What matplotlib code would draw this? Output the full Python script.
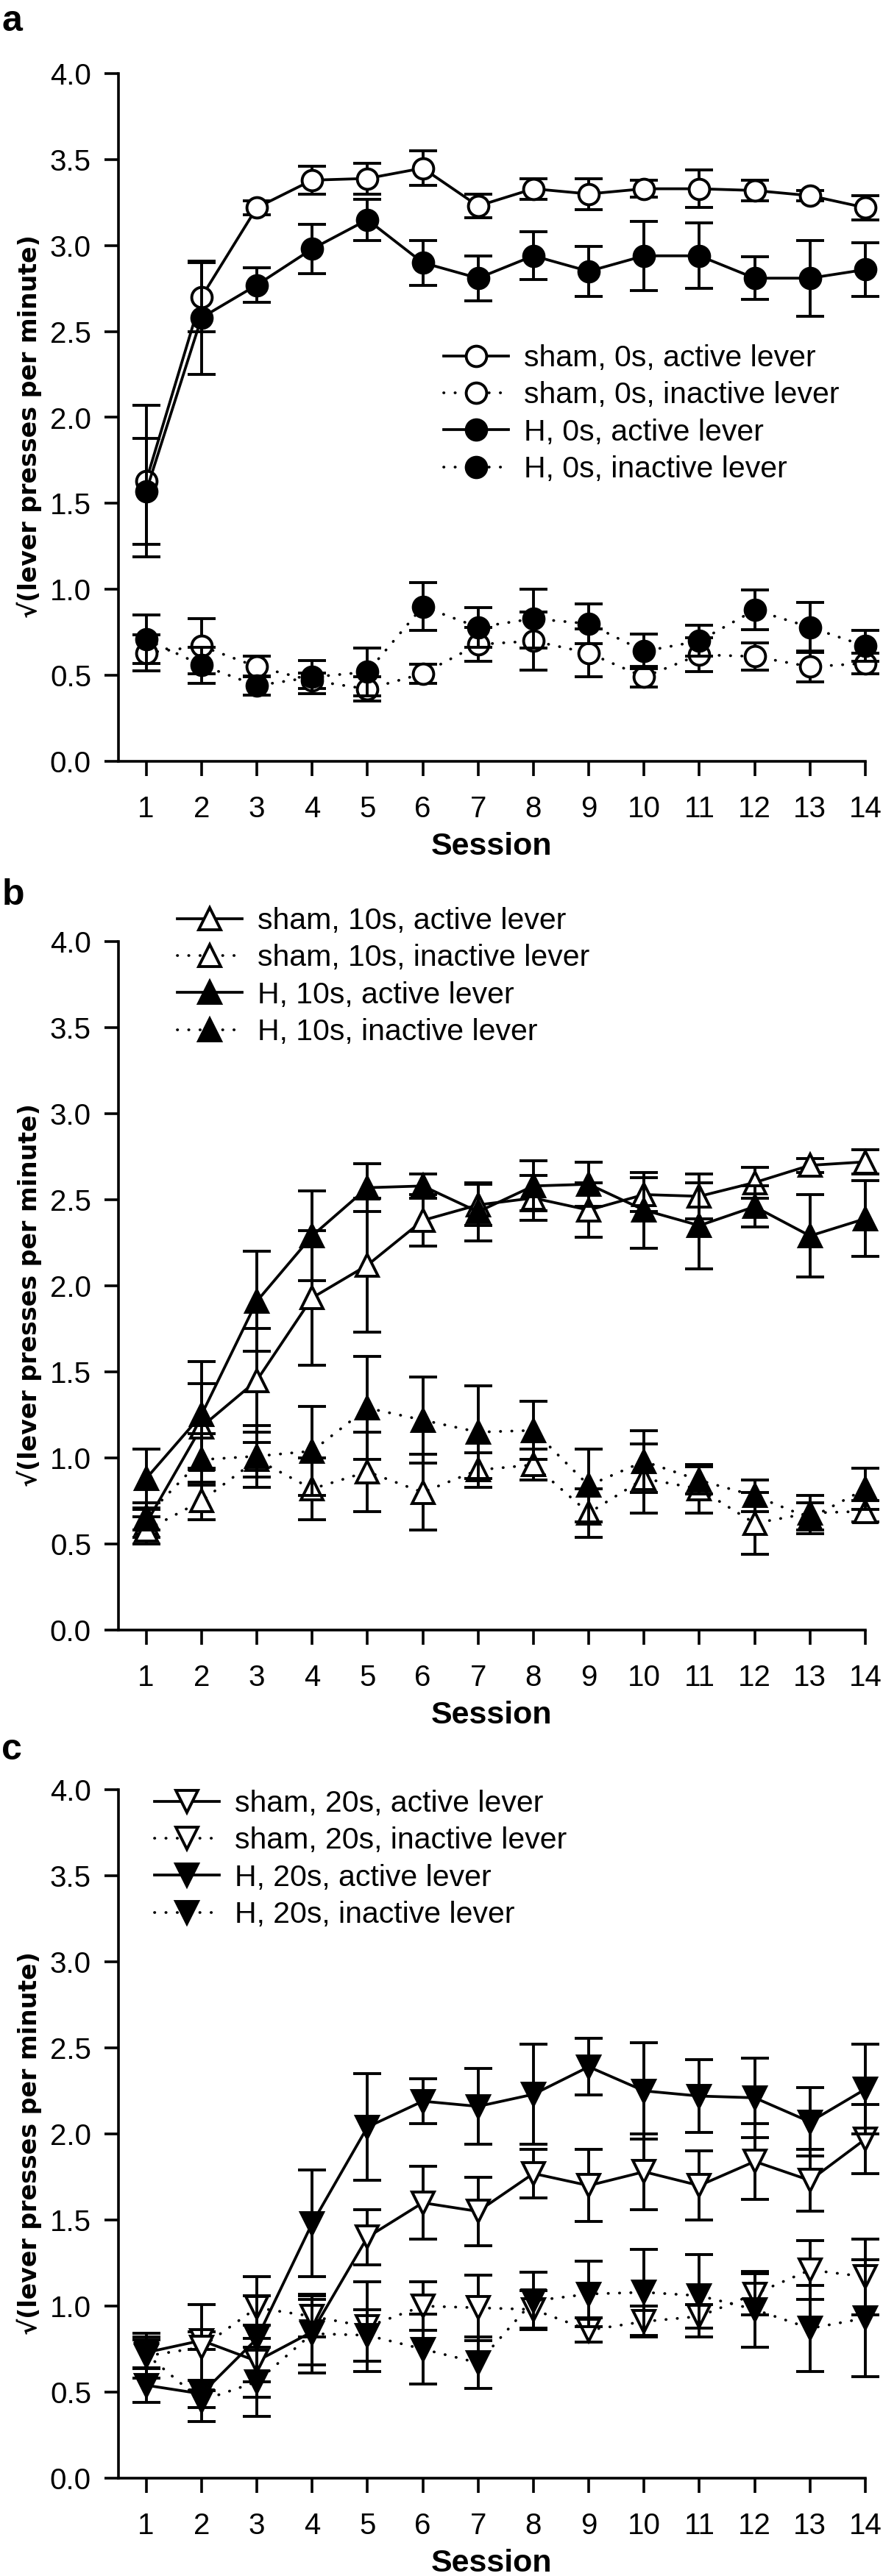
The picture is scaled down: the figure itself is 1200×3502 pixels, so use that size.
import matplotlib
matplotlib.use("Agg")
import matplotlib.pyplot as plt
import numpy as np
from matplotlib.font_manager import FontProperties

plt.rcParams['font.family'] = ['Liberation Sans', 'DejaVu Sans']

sessions = np.arange(1, 15)

# panel a, 0 s delay
a_sham_act = [1.63, 2.70, 3.22, 3.38, 3.39, 3.45, 3.23, 3.33, 3.30, 3.33, 3.33, 3.32, 3.29, 3.22]
a_sham_act_se = [0.44, 0.20, 0.04, 0.08, 0.09, 0.10, 0.07, 0.06, 0.09, 0.05, 0.11, 0.06, 0.03, 0.07]
a_sham_inact = [0.63, 0.67, 0.55, 0.47, 0.42, 0.51, 0.68, 0.70, 0.63, 0.49, 0.62, 0.61, 0.55, 0.57]
a_sham_inact_se = [0.105, 0.16, 0.06, 0.045, 0.07, 0.055, 0.10, 0.17, 0.14, 0.06, 0.10, 0.08, 0.09, 0.06]
a_h_act = [1.57, 2.58, 2.77, 2.98, 3.15, 2.90, 2.81, 2.94, 2.85, 2.94, 2.94, 2.81, 2.81, 2.86]
a_h_act_se = [0.31, 0.33, 0.10, 0.145, 0.12, 0.13, 0.13, 0.14, 0.145, 0.20, 0.19, 0.125, 0.22, 0.155]
a_h_inact = [0.71, 0.56, 0.44, 0.49, 0.52, 0.90, 0.78, 0.83, 0.80, 0.64, 0.70, 0.88, 0.78, 0.67]
a_h_inact_se = [0.14, 0.105, 0.055, 0.095, 0.14, 0.14, 0.115, 0.17, 0.115, 0.10, 0.09, 0.115, 0.145, 0.09]

# panel b, 10 s delay
b_sham_act = [0.62, 1.18, 1.45, 1.93, 2.12, 2.38, 2.47, 2.51, 2.44, 2.53, 2.52, 2.60, 2.70, 2.72]
b_sham_act_se = [0.08, 0.25, 0.30, 0.39, 0.39, 0.15, 0.12, 0.13, 0.16, 0.10, 0.13, 0.09, 0.04, 0.07]
b_sham_inact = [0.58, 0.75, 0.99, 0.82, 0.92, 0.80, 0.93, 0.96, 0.68, 0.88, 0.82, 0.62, 0.68, 0.69]
b_sham_inact_se = [0.08, 0.11, 0.10, 0.18, 0.23, 0.22, 0.10, 0.09, 0.14, 0.20, 0.14, 0.18, 0.10, 0.06]
b_h_act = [0.88, 1.25, 1.91, 2.29, 2.57, 2.58, 2.43, 2.58, 2.59, 2.44, 2.35, 2.46, 2.29, 2.39]
b_h_act_se = [0.17, 0.31, 0.29, 0.26, 0.14, 0.07, 0.17, 0.145, 0.13, 0.22, 0.25, 0.12, 0.24, 0.22]
b_h_inact = [0.66, 0.99, 1.01, 1.04, 1.29, 1.22, 1.15, 1.16, 0.84, 0.98, 0.87, 0.78, 0.65, 0.82]
b_h_inact_se = [0.08, 0.15, 0.18, 0.26, 0.30, 0.25, 0.27, 0.17, 0.21, 0.18, 0.08, 0.09, 0.09, 0.12]

# panel c, 20 s delay
c_sham_act = [0.73, 0.80, 0.68, 0.85, 1.40, 1.60, 1.55, 1.77, 1.70, 1.78, 1.70, 1.84, 1.73, 1.97]
c_sham_act_se = [0.09, 0.05, 0.21, 0.19, 0.16, 0.21, 0.20, 0.14, 0.21, 0.22, 0.20, 0.22, 0.18, 0.20]
c_sham_inact = [0.71, 0.76, 0.99, 0.94, 0.88, 1.00, 0.99, 0.98, 0.86, 0.91, 0.94, 1.07, 1.21, 1.17]
c_sham_inact_se = [0.13, 0.25, 0.18, 0.12, 0.26, 0.14, 0.19, 0.11, 0.07, 0.09, 0.07, 0.12, 0.17, 0.22]
c_h_act = [0.54, 0.49, 0.81, 1.48, 2.04, 2.19, 2.16, 2.23, 2.39, 2.25, 2.22, 2.21, 2.07, 2.26]
c_h_act_se = [0.10, 0.08, 0.25, 0.31, 0.31, 0.13, 0.22, 0.29, 0.165, 0.28, 0.21, 0.23, 0.20, 0.26]
c_h_inact = [0.72, 0.45, 0.56, 0.84, 0.83, 0.75, 0.67, 1.03, 1.07, 1.08, 1.06, 0.98, 0.87, 0.93]
c_h_inact_se = [0.085, 0.12, 0.20, 0.23, 0.15, 0.205, 0.15, 0.165, 0.19, 0.25, 0.24, 0.22, 0.25, 0.34]

ylab = "\u221a(lever presses per minute)"
dotted = (0, (0.1, 4.0))

fig = plt.figure(figsize=(12, 35.02), dpi=100)

H = 3502.0
# axes boxes in pixels: (top, bottom)
boxes = [(100, 1035), (1280, 2216), (2433, 3369)]
left_px, right_px = 161, 1176
# legend anchor (left, top) in pixels
leg_pos = [(603, 468), (241, 1233), (210, 2433)]
letters = [("a", 42), ("b", 1230), ("c", 2392)]
ylab_len_px = 522  # length of the rotated y label in the reference

panels = [
    ("0s", "o", 20, [(a_sham_act, a_sham_act_se), (a_sham_inact, a_sham_inact_se),
                     (a_h_act, a_h_act_se), (a_h_inact, a_h_inact_se)]),
    ("10s", "^", 21, [(b_sham_act, b_sham_act_se), (b_sham_inact, b_sham_inact_se),
                      (b_h_act, b_h_act_se), (b_h_inact, b_h_inact_se)]),
    ("20s", "v", 21, [(c_sham_act, c_sham_act_se), (c_sham_inact, c_sham_inact_se),
                      (c_h_act, c_h_act_se), (c_h_inact, c_h_inact_se)]),
]

ylabels = []
for p, (delay, mk, ms, series) in enumerate(panels):
    top, bot = boxes[p]
    ax = fig.add_axes([left_px / 1200, 1 - bot / H, (right_px - left_px) / 1200, (bot - top) / H])

    labels = [f"sham, {delay}, active lever", f"sham, {delay}, inactive lever",
              f"H, {delay}, active lever", f"H, {delay}, inactive lever"]
    handles = []
    for i, (y, se) in enumerate(series):
        filled = i >= 2
        ls = dotted if i % 2 == 1 else '-'
        cont = ax.errorbar(sessions, y, yerr=se, marker=mk, ms=ms,
                           mfc='black' if filled else 'white', mec='black', mew=2.8,
                           color='black', lw=2.7, linestyle=ls, dash_capstyle='round',
                           ecolor='black', elinewidth=2.8, capsize=14, capthick=2.8,
                           zorder=2 + i)
        for art in cont.get_children():
            art.set_clip_on(False)
        handles.append(cont.lines[0])

    ax.set_xlim(0.5, 14)
    ax.set_ylim(0, 4)
    ax.set_xticks(sessions)
    ax.set_yticks(np.arange(0, 4.01, 0.5))
    ax.set_yticklabels([f"{v:.1f}" for v in np.arange(0, 4.01, 0.5)])
    for s in ['top', 'right']:
        ax.spines[s].set_visible(False)
    for s in ['left', 'bottom']:
        ax.spines[s].set_linewidth(2.6)
    ax.tick_params(axis='y', length=13.7, width=2.6, pad=13, labelsize=29)
    ax.tick_params(axis='x', length=14.4, width=2.6, pad=19, labelsize=29)

    ax.set_xlabel("Session", fontsize=31, fontweight='bold')
    ax.xaxis.set_label_coords(0.5, -0.124)
    ax.xaxis.label.set_va('center')
    ax.set_ylabel(ylab, fontproperties=FontProperties(family='DejaVu Sans', weight='bold', size=24))
    ax.yaxis.set_label_coords(-0.1192, 0.487)
    ax.yaxis.label.set_va('center')
    ylabels.append(ax.yaxis.label)

    lx, ly = leg_pos[p]
    ax.legend(handles, labels, loc='upper left', bbox_to_anchor=(lx / 1200, 1 - ly / H),
              bbox_transform=fig.transFigure, frameon=False, fontsize=29.5,
              handlelength=2.15, handletextpad=0.5, labelspacing=0.3,
              borderpad=0, borderaxespad=0, numpoints=1)

    letter, base = letters[p]
    fig.text(0.002, 1 - base / H, letter, fontsize=36, fontweight='bold', va='baseline', ha='left')

# the reference y label is a wide bold face: scale it to the measured length
fig.canvas.draw()
renderer = fig.canvas.get_renderer()
for lab in ylabels:
    h = lab.get_window_extent(renderer).height
    lab.set_fontsize(lab.get_fontsize() * ylab_len_px / h)

fig.savefig("out.png", dpi=100)
